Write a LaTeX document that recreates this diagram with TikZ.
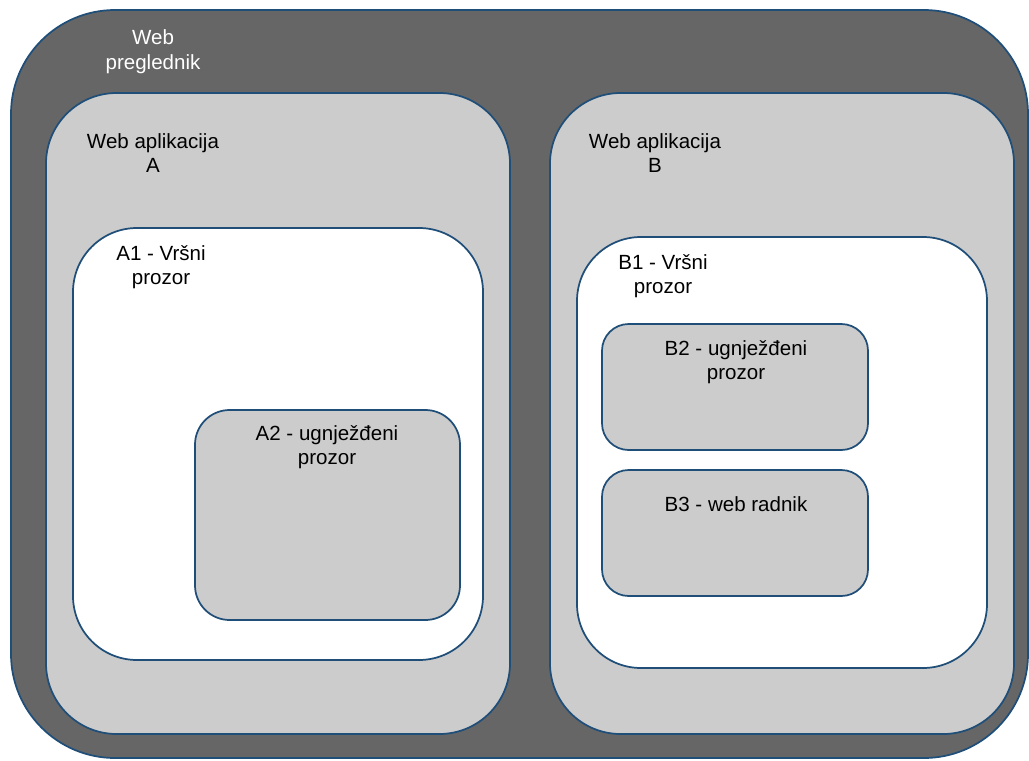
\documentclass[tikz,border=0pt]{standalone}
\usepackage{fontspec}
\setmainfont{Liberation Sans}
\definecolor{edge}{HTML}{1F4E79}
\definecolor{dark}{HTML}{666666}
\definecolor{light}{HTML}{CCCCCC}
\begin{document}
\begin{tikzpicture}[x=0.75pt,y=-0.75pt,
  box/.style={draw=edge,line width=1.3pt,inner sep=0pt,outer sep=0pt},
  lbl/.style={align=center,font=\fontsize{15.4}{18.5}\selectfont,inner sep=0pt}]
\useasboundingbox (0,0) rectangle (1029,761);
\node[box,fill=dark,rounded corners=78pt,minimum width=1017*0.75pt,minimum height=748*0.75pt] (browser) at (519.5,384) {};
\node[box,fill=light,rounded corners=53pt,minimum width=464*0.75pt,minimum height=641*0.75pt] (appA) at (278,413.5) {};
\node[box,fill=light,rounded corners=53pt,minimum width=464*0.75pt,minimum height=641*0.75pt] (appB) at (782,413.5) {};
\node[box,fill=white,rounded corners=48pt,minimum width=410*0.75pt,minimum height=432*0.75pt] (A1) at (278,444) {};
\node[box,fill=light,rounded corners=26pt,minimum width=265*0.75pt,minimum height=210*0.75pt] (A2) at (327.5,515) {};
\node[box,fill=white,rounded corners=48pt,minimum width=410*0.75pt,minimum height=431*0.75pt] (B1) at (782,452.5) {};
\node[box,fill=light,rounded corners=20pt,minimum width=266*0.75pt,minimum height=126*0.75pt] (B2) at (735,387) {};
\node[box,fill=light,rounded corners=20pt,minimum width=266*0.75pt,minimum height=126*0.75pt] (B3) at (735,533) {};
\node[lbl,text=white] (tbrowser) at (153,52) {Web\\preglednik};
\node[lbl] (tappA) at (153,153) {Web aplikacija\\A};
\node[lbl] (tappB) at (655,153) {Web aplikacija\\B};
\node[lbl] (tA1) at (161,267) {A1 - Vršni\\prozor};
\node[lbl] (tB1) at (663,276) {B1 - Vršni\\prozor};
\node[lbl] (tA2) at (327,447) {A2 - ugnježđeni\\prozor};
\node[lbl] (tB2) at (736,362) {B2 - ugnježđeni\\prozor};
\node[lbl] (tB3) at (736,504) {B3 - web radnik};
\end{tikzpicture}
\end{document}
